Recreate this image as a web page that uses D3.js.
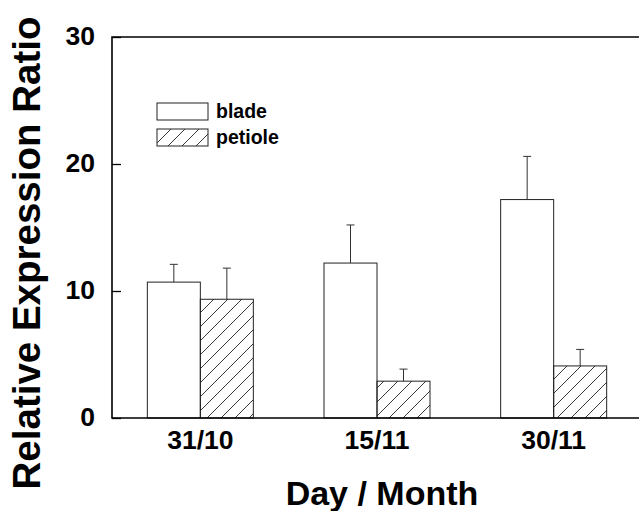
<!DOCTYPE html>
<html>
<head>
<meta charset="utf-8">
<script src="https://cdn.jsdelivr.net/npm/d3@7"></script>
<style>
  body { margin: 0; background: #fff; }
  text { font-family: "Liberation Sans", Arial, sans-serif; font-weight: bold; fill: #000; }
</style>
</head>
<body>
<svg width="639" height="511"></svg>
<script>
// data
var days = ["31/10", "15/11", "30/11"];
var series = ["blade", "petiole"];
var bladeMean = [10.7, 12.2, 17.2];
var bladeErr = [1.4, 3.0, 3.4];
var petioleMean = [9.35, 2.9, 4.1];
var petioleErr = [2.45, 0.95, 1.3];
var yTicks = [0, 10, 20, 30];

var svg = d3.select("svg"),
  margin = { top: 37, right: -3, bottom: 93, left: 112 },
  width = +svg.attr("width") - margin.left - margin.right,
  height = +svg.attr("height") - margin.top - margin.bottom;

// hatch for petiole
var defs = svg.append("defs");
defs.append("pattern")
  .attr("id", "hatch")
  .attr("patternUnits", "userSpaceOnUse")
  .attr("width", 14).attr("height", 14)
  .append("path")
  .attr("d", "M-1,15 L15,-1 M-4,4 L4,-4 M10,18 L18,10")
  .attr("stroke", "#222").attr("stroke-width", 0.9);

var x = d3.scaleBand().domain(days).range([0, width]).paddingInner(0.4).paddingOuter(0.2),
  xs = d3.scaleBand().domain(series).range([0, x.bandwidth()]),
  y = d3.scaleLinear().domain([0, 30]).range([height, 0]);

var g = svg.append("g").attr("transform", "translate(" + margin.left + "," + margin.top + ")");

var data = days.map(function(d, i) {
  return [
    { day: d, s: "blade", v: bladeMean[i], e: bladeErr[i] },
    { day: d, s: "petiole", v: petioleMean[i], e: petioleErr[i] }
  ];
}).flat();

// error bars (upper only), drawn before bars
var err = g.selectAll(".err").data(data).enter().append("g").attr("class", "err")
  .attr("stroke", "#333").attr("stroke-width", 1);
err.append("line")
  .attr("x1", function(d) { return x(d.day) + xs(d.s) + xs.bandwidth() / 2; })
  .attr("x2", function(d) { return x(d.day) + xs(d.s) + xs.bandwidth() / 2; })
  .attr("y1", function(d) { return y(d.v); })
  .attr("y2", function(d) { return y(d.v + d.e); });
err.append("line")
  .attr("x1", function(d) { return x(d.day) + xs(d.s) + xs.bandwidth() / 2 - 4; })
  .attr("x2", function(d) { return x(d.day) + xs(d.s) + xs.bandwidth() / 2 + 4; })
  .attr("y1", function(d) { return y(d.v + d.e); })
  .attr("y2", function(d) { return y(d.v + d.e); });

// bars
g.selectAll(".bar").data(data).enter().append("rect").attr("class", "bar")
  .attr("x", function(d) { return x(d.day) + xs(d.s); })
  .attr("y", function(d) { return y(d.v); })
  .attr("width", xs.bandwidth())
  .attr("height", function(d) { return height - y(d.v); })
  .attr("fill", function(d) { return d.s === "blade" ? "#fff" : "url(#hatch)"; })
  .attr("stroke", "#222").attr("stroke-width", 1);

// y axis with inward ticks
var yAxis = g.append("g").call(d3.axisLeft(y).tickValues(yTicks).tickSize(-9).tickPadding(17));
yAxis.select(".domain").remove();
yAxis.selectAll("text").style("font-size", "26.5px").attr("dy", "0.3em");
yAxis.selectAll("line").attr("stroke", "#000").attr("stroke-width", 1.3);

// x axis labels
var xAxis = g.append("g").attr("transform", "translate(0," + height + ")")
  .call(d3.axisBottom(x).tickSize(0).tickPadding(12));
xAxis.select(".domain").remove();
xAxis.selectAll("text").style("font-size", "26.5px").attr("dy", "0.71em");

// frame: left, top and bottom
g.append("path")
  .attr("d", "M" + (width + 10) + ",0H0V" + height + "H" + (width + 10))
  .attr("fill", "none").attr("stroke", "#000").attr("stroke-width", 1.6);

// legend
var leg = g.selectAll(".leg").data(series).enter().append("g").attr("class", "leg")
  .attr("transform", function(d, i) { return "translate(45," + (66 + i * 26) + ")"; });
leg.append("rect").attr("width", 51).attr("height", 17)
  .attr("fill", function(d) { return d === "blade" ? "#fff" : "url(#hatch)"; })
  .attr("stroke", "#222").attr("stroke-width", 1);
leg.append("text").attr("x", 59).attr("y", 15).style("font-size", "19.5px").text(function(d) { return d; });

// axis titles
svg.append("text").attr("x", 382).attr("y", 505).attr("text-anchor", "middle")
  .style("font-size", "34px").text("Day / Month");
svg.append("text").attr("transform", "translate(40,253) rotate(-90)").attr("text-anchor", "middle")
  .style("font-size", "38.5px").text("Relative Expression Ratio");
</script>
</body>
</html>
